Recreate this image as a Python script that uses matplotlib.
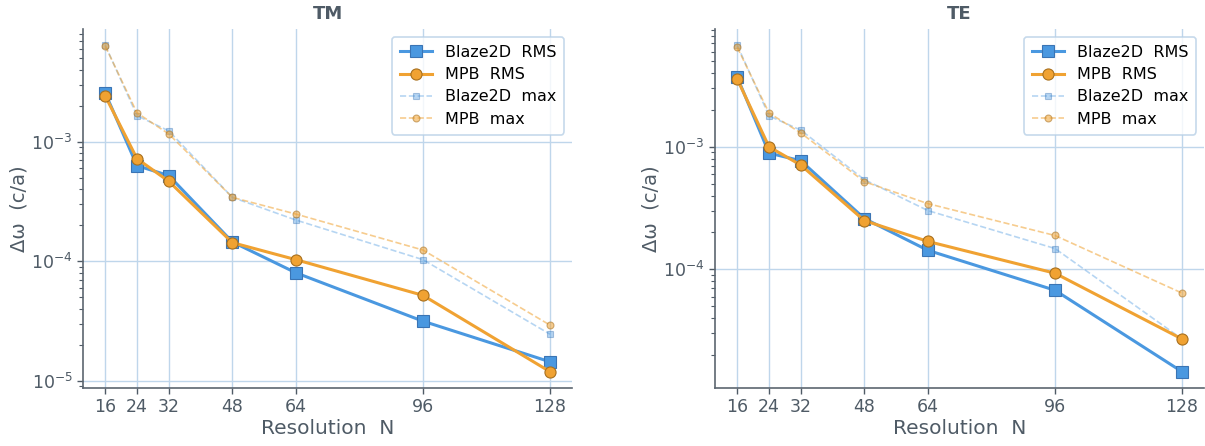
import numpy as np
import matplotlib
matplotlib.use("Agg")
import matplotlib.pyplot as plt

# resolution N
res = [16, 24, 32, 48, 64, 96, 128]

# TM errors
tm_blaze_rms = [2.55e-3, 6.3e-4, 5.2e-4, 1.45e-4, 8.0e-5, 3.15e-5, 1.44e-5]
tm_mpb_rms = [2.41e-3, 7.2e-4, 4.66e-4, 1.43e-4, 1.03e-4, 5.18e-5, 1.19e-5]
tm_blaze_max = [6.4e-3, 1.65e-3, 1.23e-3, 3.42e-4, 2.21e-4, 1.03e-4, 2.45e-5]
tm_mpb_max = [6.3e-3, 1.74e-3, 1.16e-3, 3.42e-4, 2.48e-4, 1.24e-4, 2.92e-5]

# TE errors
te_blaze_rms = [3.7e-3, 8.9e-4, 7.7e-4, 2.6e-4, 1.43e-4, 6.75e-5, 1.46e-5]
te_mpb_rms = [3.57e-3, 1.0e-3, 7.1e-4, 2.5e-4, 1.69e-4, 9.3e-5, 2.7e-5]
te_blaze_max = [6.75e-3, 1.79e-3, 1.37e-3, 5.4e-4, 3.02e-4, 1.48e-4, 2.7e-5]
te_mpb_max = [6.5e-3, 1.89e-3, 1.3e-3, 5.2e-4, 3.44e-4, 1.89e-4, 6.4e-5]

blue = '#4a98e0'
orange = '#f0a232'
blue_edge = '#3a74b4'
orange_edge = '#a8701e'
txt = '#4f5b66'
grid_c = '#bfd6eb'

plt.rcParams['font.family'] = 'DejaVu Sans'

fig = plt.figure(figsize=(12.05, 4.46), dpi=100)
ax1 = fig.add_axes([0.0689, 0.130, 0.406, 0.805])
ax2 = fig.add_axes([0.5934, 0.130, 0.406, 0.805])

panels = [(ax1, 'TM', tm_blaze_rms, tm_mpb_rms, tm_blaze_max, tm_mpb_max),
          (ax2, 'TE', te_blaze_rms, te_mpb_rms, te_blaze_max, te_mpb_max)]

for ax, title, b_rms, m_rms, b_max, m_max in panels:
    ax.plot(res, b_rms, '-s', color=blue, lw=2.2, ms=8,
            mec=blue_edge, mew=0.8, label='Blaze2D  RMS', zorder=4)
    ax.plot(res, m_rms, '-o', color=orange, lw=2.2, ms=8,
            mec=orange_edge, mew=0.8, label='MPB  RMS', zorder=4)
    ax.plot(res, b_max, '--s', color=blue, lw=1.2, ms=5, alpha=0.4,
            mec=blue_edge, mew=0.8, label='Blaze2D  max', zorder=3)
    ax.plot(res, m_max, '--o', color=orange, lw=1.2, ms=5, alpha=0.55,
            mec=orange_edge, mew=0.8, label='MPB  max', zorder=3)

    ax.set_yscale('log')
    ax.set_xticks(res)
    ax.set_xticklabels([str(r) for r in res])
    ax.grid(True, which='major', color=grid_c, lw=1.0)
    ax.set_axisbelow(True)

    for s in ['top', 'right']:
        ax.spines[s].set_visible(False)
    for s in ['left', 'bottom']:
        ax.spines[s].set_color('#5c6670')
        ax.spines[s].set_linewidth(1.2)
    ax.tick_params(axis='both', which='major', labelsize=12.5, colors=txt,
                   length=4, width=1)
    ax.tick_params(axis='y', which='minor', colors=txt, length=3, width=0.8)

    ax.set_title(title, fontsize=13, fontweight='bold', color=txt, pad=7)
    ax.set_xlabel('Resolution  N', fontsize=14.5, color=txt, labelpad=2)
    ax.set_ylabel('Δω  (c/a)', fontsize=14, color=txt, labelpad=2)

    leg = ax.legend(loc='upper right', fontsize=11.5, frameon=True,
                    borderpad=0.5, labelspacing=0.45, handlelength=2.0,
                    handletextpad=0.8)
    leg.get_frame().set_edgecolor('#b8d0e6')
    leg.get_frame().set_linewidth(1.2)

fig.savefig('out.png', dpi=100)
